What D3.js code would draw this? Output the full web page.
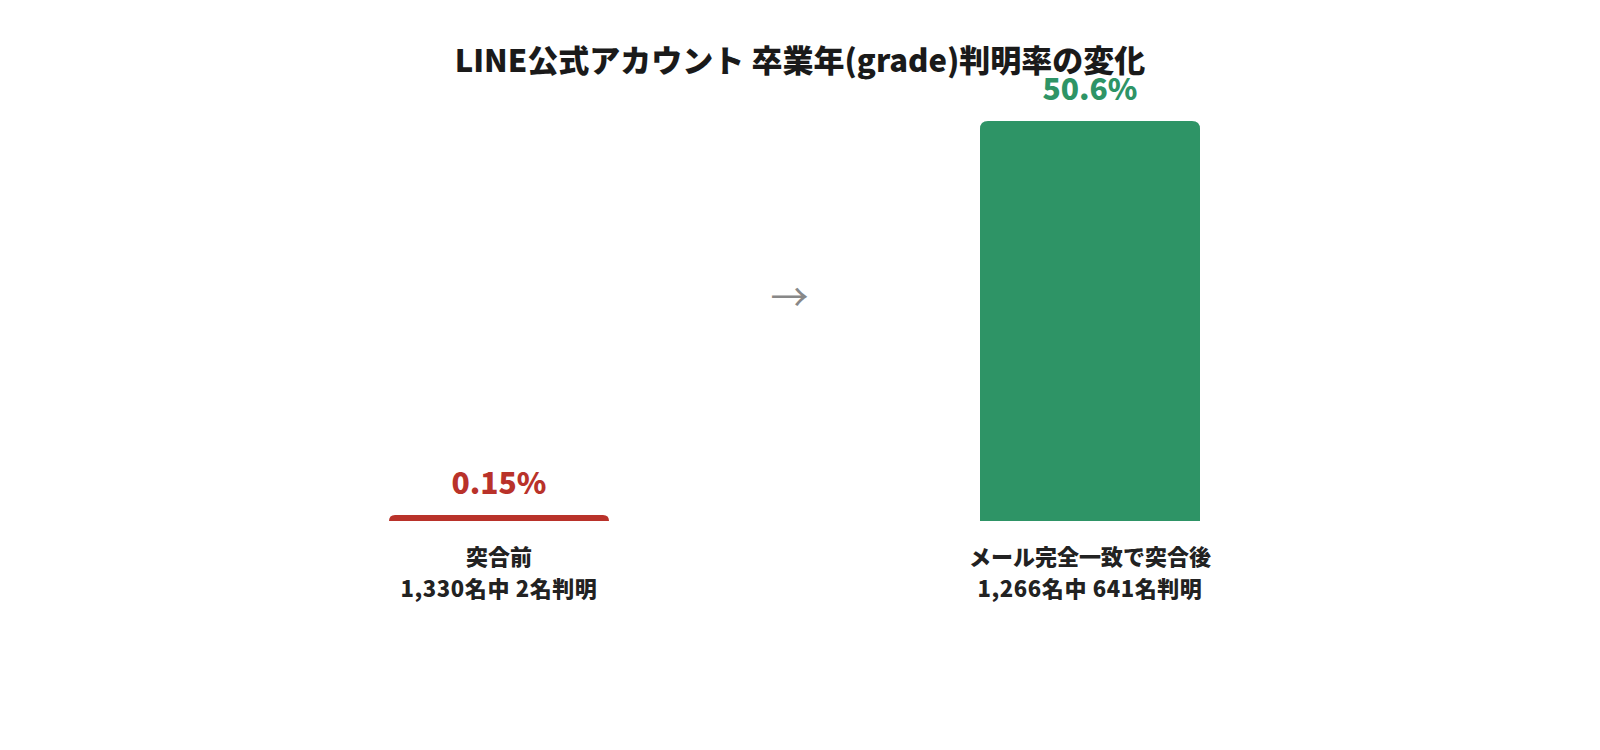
<!DOCTYPE html>
<html>
<head>
<meta charset="utf-8">
<script src="https://cdn.jsdelivr.net/npm/d3@7"></script>
<style>
  body { margin: 0; background: #fff; }
  text { font-family: "Noto Sans CJK JP", "Noto Sans", sans-serif; }
</style>
</head>
<body>
<div id="chart"></div>
<script>
const title = 'LINE公式アカウント 卒業年(grade)判明率の変化';
const categories = ['突合前', 'メール完全一致で突合後'];
const subLabels = ['1,330名中 2名判明', '1,266名中 641名判明'];
const rates = [0.15, 50.6];
const rateLabels = ['0.15%', '50.6%'];
const colors = ['#b9322a', '#2e9466'];

const width = 1600;
const height = 750;
const baseline = 521;
const barWidth = 220;

const svg = d3.select('#chart')
  .append('svg')
  .attr('width', width)
  .attr('height', height);

const xScale = d3.scalePoint()
  .domain(categories)
  .range([499, 1090]);

const yScale = d3.scaleLinear()
  .domain([0, d3.max(rates)])
  .range([baseline, 121]);

// title
svg.append('text')
  .attr('x', width / 2)
  .attr('y', 72)
  .attr('text-anchor', 'middle')
  .attr('font-size', 31)
  .attr('font-weight', 900)
  .attr('fill', '#1a1a1a')
  .text(title);

// bar with rounded top corners
function topRounded(x, y, w, h, r) {
  r = Math.min(r, h, w / 2);
  return `M${x},${y + h}V${y + r}Q${x},${y} ${x + r},${y}H${x + w - r}Q${x + w},${y} ${x + w},${y + r}V${y + h}Z`;
}

const bars = svg.append('g').attr('class', 'bars');

categories.forEach((cat, i) => {
  const cx = xScale(cat);
  // keep tiny values visible
  const h = Math.max(baseline - yScale(rates[i]), 6);
  const top = baseline - h;

  bars.append('path')
    .attr('d', topRounded(cx - barWidth / 2, top, barWidth, h, 8))
    .attr('fill', colors[i]);

  bars.append('text')
    .attr('x', cx)
    .attr('y', top - 21)
    .attr('text-anchor', 'middle')
    .attr('font-size', 30)
    .attr('font-weight', 900)
    .attr('fill', colors[i])
    .text(rateLabels[i]);

  bars.append('text')
    .attr('x', cx)
    .attr('y', baseline + 44)
    .attr('text-anchor', 'middle')
    .attr('font-size', 22)
    .attr('font-weight', 900)
    .attr('fill', '#222')
    .text(cat);

  bars.append('text')
    .attr('x', cx)
    .attr('y', baseline + 76)
    .attr('text-anchor', 'middle')
    .attr('font-size', 22)
    .attr('font-weight', 900)
    .attr('letter-spacing', 0.6)
    .attr('fill', '#222')
    .text(subLabels[i]);
});

// arrow between the bars
svg.append('text')
  .attr('x', (xScale(categories[0]) + xScale(categories[1])) / 2 - 5)
  .attr('y', 294)
  .attr('text-anchor', 'middle')
  .attr('dominant-baseline', 'central')
  .attr('font-size', 38)
  .attr('fill', '#888')
  .text('→');
</script>
</body>
</html>
